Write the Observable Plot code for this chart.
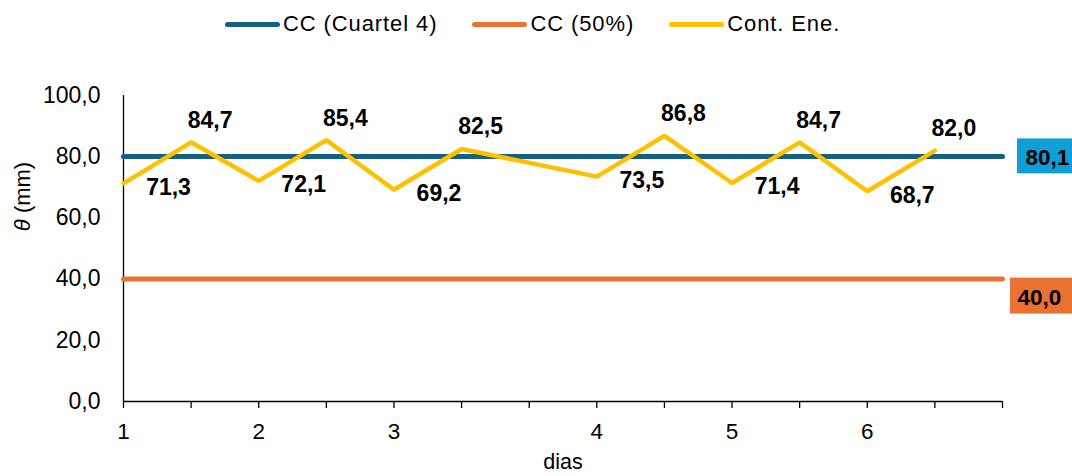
<!DOCTYPE html>
<html>
<head>
<meta charset="utf-8">
<script src="https://cdn.jsdelivr.net/npm/d3@7"></script>
<script src="https://cdn.jsdelivr.net/npm/@observablehq/plot@0.6"></script>
<style>
  html, body { margin: 0; padding: 0; background: #fff; overflow: hidden; }
  #legend { height: 48px; display: flex; align-items: center; padding-left: 225px; gap: 35px;
            font-family: "Liberation Sans", Arial, sans-serif; font-size: 22px; letter-spacing: 0.9px; color: #000; }
  .item { display: flex; align-items: center; }
  .sw { width: 55px; height: 5px; border-radius: 3px; margin-right: 3px; }
</style>
</head>
<body>
<div id="legend"></div>
<div id="chart"></div>
<script>
// ---- data ----
const dayLabels   = ["1", "", "2", "", "3", "", "", "4", "", "5", "", "6", "", ""];
const contEne     = [71.3, 84.7, 72.1, 85.4, 69.2, 82.5, null, 73.5, 86.8, 71.4, 84.7, 68.7, 82.0, null];
const ccCuartel4  = [80.1, 80.1, 80.1, 80.1, 80.1, 80.1, 80.1, 80.1, 80.1, 80.1, 80.1, 80.1, 80.1, 80.1];
const cc50        = [40.0, 40.0, 40.0, 40.0, 40.0, 40.0, 40.0, 40.0, 40.0, 40.0, 40.0, 40.0, 40.0, 40.0];
const yTicks      = [0, 20, 40, 60, 80, 100];
const seriesNames = ["CC (Cuartel 4)", "CC (50%)", "Cont. Ene."];
const seriesColors = ["#156082", "#E97132", "#FFC000"];
const boxColors   = ["#0F9ED5", "#E97132"];

const fmt = v => v.toFixed(1).replace(".", ",");
const rows = dayLabels.map((label, i) => ({i, label, cont: contEne[i], cc4: ccCuartel4[i], cc50: cc50[i]}));
const contRows = rows.filter(d => d.cont != null);
const last = rows.slice(-1);

// ---- legend ----
const legend = document.getElementById("legend");
seriesNames.forEach((name, k) => {
  const it = document.createElement("div"); it.className = "item";
  const sw = document.createElement("span"); sw.className = "sw"; sw.style.background = seriesColors[k];
  const tx = document.createElement("span"); tx.textContent = name;
  it.append(sw, tx); legend.append(it);
});

// ---- chart ----
const font = "'Liberation Sans', Arial, sans-serif";
const chart = Plot.plot({
  width: 1072, height: 428,
  marginTop: 47, marginBottom: 75, marginLeft: 123, marginRight: 70,
  style: {fontFamily: font, fontSize: "22px", color: "#000", background: "#fff", overflow: "hidden"},
  x: {domain: [0, dayLabels.length - 1]},
  y: {domain: [0, 100]},
  marks: [
    Plot.axisX({ticks: d3.range(dayLabels.length), tickFormat: i => dayLabels[i], tickSize: 7, tickPadding: 15,
                label: null, fontSize: 22.5, strokeWidth: 1.3}),
    Plot.axisY({ticks: yTicks, tickFormat: fmt, tickSize: 0, tickPadding: 23, label: null, fontSize: 23}),
    Plot.ruleY([0], {stroke: "#000", strokeWidth: 1.3}),
    Plot.ruleX([0], {stroke: "#000", strokeWidth: 1.3}),
    Plot.line(rows, {x: "i", y: "cc4", stroke: seriesColors[0], strokeWidth: 5, strokeLinecap: "round"}),
    Plot.line(rows, {x: "i", y: "cc50", stroke: seriesColors[1], strokeWidth: 5, strokeLinecap: "round"}),
    Plot.line(contRows, {x: "i", y: "cont", stroke: seriesColors[2], strokeWidth: 4.5, strokeLinejoin: "miter"}),
    Plot.text(contRows.filter(d => d.cont > d.cc4), {x: "i", y: "cont", text: d => fmt(d.cont),
              dx: 19, dy: -22, fontWeight: "bold", fontSize: 23, fill: "#000"}),
    Plot.text(contRows.filter(d => d.cont <= d.cc4), {x: "i", y: "cont", text: d => fmt(d.cont),
              dx: 45, dy: 4, fontWeight: "bold", fontSize: 23, fill: "#000"}),
    // end-of-line value boxes
    Plot.rect(last, {x1: "i", x2: "i", y1: "cc4", y2: "cc4", fill: boxColors[0],
              insetLeft: 15, insetRight: -90, insetTop: -17.5, insetBottom: -17.5}),
    Plot.rect(last, {x1: "i", x2: "i", y1: "cc50", y2: "cc50", fill: boxColors[1],
              insetLeft: 8, insetRight: -90, insetTop: -1, insetBottom: -35}),
    Plot.text(last, {x: "i", y: "cc4", text: d => fmt(d.cc4), dx: 23, dy: 1, textAnchor: "start",
              fontWeight: "bold", fontSize: 22.5, fill: "#000"}),
    Plot.text(last, {x: "i", y: "cc50", text: d => fmt(d.cc50), dx: 15, dy: 19, textAnchor: "start",
              fontWeight: "bold", fontSize: 22.5, fill: "#000"}),
    Plot.text(["θ (mm)"], {frameAnchor: "left", text: d => d, rotate: -90, dx: -101, dy: -52,
              textAnchor: "middle", lineAnchor: "middle", fontSize: 22, fill: "#000"}),
    Plot.text(["dias"], {frameAnchor: "bottom", text: d => d, dy: 61, textAnchor: "middle", lineAnchor: "middle",
              fontSize: 21.5, fill: "#000"})
  ]
});
document.getElementById("chart").append(chart);

// italic theta in the y label
const NS = "http://www.w3.org/2000/svg";
const yl = Array.from(chart.querySelectorAll("text")).find(t => t.textContent === "θ (mm)");
if (yl) {
  yl.textContent = "";
  const t1 = document.createElementNS(NS, "tspan"); t1.setAttribute("font-style", "italic"); t1.textContent = "θ";
  const t2 = document.createElementNS(NS, "tspan"); t2.textContent = " (mm)";
  yl.append(t1, t2);
}
</script>
</body>
</html>
